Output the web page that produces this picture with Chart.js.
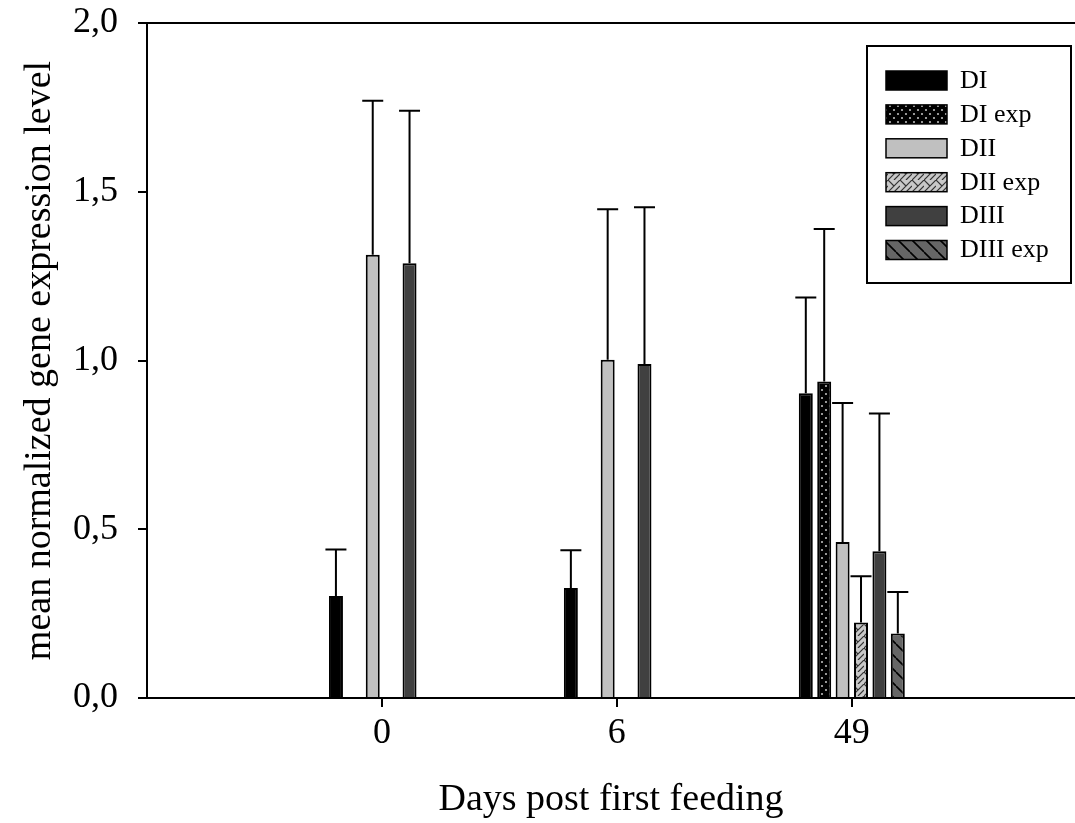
<!DOCTYPE html>
<html>
<head>
<meta charset="utf-8">
<script src="https://cdn.jsdelivr.net/npm/chart.js@4.4.0/dist/chart.umd.min.js"></script>
<style>
  html, body { margin: 0; padding: 0; background: #fff; }
  canvas { display: block; }
</style>
</head>
<body>
<canvas id="chart" width="1075" height="823"></canvas>
<script>
(function () {
  "use strict";

  var DAYS = ["0", "6", "49"];
  var SERIES = ["DI", "DI exp", "DII", "DII exp", "DIII", "DIII exp"];

  // means and upper error (SD) per day
  var DI = [0.302, 0.326, 0.903];
  var DI_SD = [0.138, 0.112, 0.284];
  var DI_EXP = [null, null, 0.938];
  var DI_EXP_SD = [null, null, 0.452];
  var DII = [1.313, 1.002, 0.462];
  var DII_SD = [0.457, 0.446, 0.412];
  var DII_EXP = [null, null, 0.224];
  var DII_EXP_SD = [null, null, 0.137];
  var DIII = [1.288, 0.990, 0.435];
  var DIII_SD = [0.452, 0.464, 0.408];
  var DIII_EXP = [null, null, 0.191];
  var DIII_EXP_SD = [null, null, 0.123];

  var Y_TICKS = [0, 0.5, 1, 1.5, 2];

  var FONT = "'Liberation Serif', 'Times New Roman', serif";

  function makePattern(size, bg, draw) {
    var c = document.createElement("canvas");
    c.width = size;
    c.height = size;
    var g = c.getContext("2d");
    g.fillStyle = bg;
    g.fillRect(0, 0, size, size);
    draw(g, size);
    return g.createPattern(c, "repeat");
  }

  var dotted = makePattern(8, "#000", function (g) {
    g.fillStyle = "#b8b8b8";
    g.beginPath();
    g.arc(2, 2, 1.1, 0, Math.PI * 2);
    g.arc(6, 6, 1.1, 0, Math.PI * 2);
    g.fill();
  });

  var hatched = makePattern(12, "#c8c8c8", function (g, s) {
    g.strokeStyle = "#333";
    g.lineWidth = 1.2;
    g.beginPath();
    g.moveTo(0, s); g.lineTo(s, 0);
    g.moveTo(0, 0); g.lineTo(s / 2, s / 2);
    g.moveTo(s / 2, s); g.lineTo(s, s / 2);
    g.stroke();
  });

  var striped = makePattern(14, "#666", function (g, s) {
    g.strokeStyle = "#000";
    g.lineWidth = 1.6;
    g.beginPath();
    for (var k = -1; k <= 1; k++) {
      g.moveTo(k * s, 0);
      g.lineTo(k * s + s, s);
    }
    g.stroke();
  });

  function points(values) {
    return values.map(function (v, i) {
      return { x: i, y: v };
    });
  }

  function dataset(label, values, sd, fill) {
    return {
      label: label,
      data: points(values),
      sd: sd,
      backgroundColor: fill,
      borderColor: "#000",
      borderWidth: 2,
      barPercentage: 0.76,
      categoryPercentage: 0.47,
    };
  }

  var errorBars = {
    id: "errorBars",
    afterDatasetsDraw: function (chart) {
      var ctx = chart.ctx;
      var yScale = chart.scales.y;
      ctx.save();
      ctx.strokeStyle = "#000";
      ctx.lineWidth = 2;
      chart.data.datasets.forEach(function (ds, i) {
        var meta = chart.getDatasetMeta(i);
        meta.data.forEach(function (bar, j) {
          var v = ds.data[j].y;
          var sd = ds.sd[j];
          if (v == null || sd == null) return;
          var top = yScale.getPixelForValue(v + sd);
          ctx.beginPath();
          ctx.moveTo(bar.x, bar.y);
          ctx.lineTo(bar.x, top);
          ctx.moveTo(bar.x - 10.5, top);
          ctx.lineTo(bar.x + 10.5, top);
          ctx.stroke();
        });
      });
      ctx.restore();
    },
  };

  var legendBox = {
    id: "legendBox",
    afterDraw: function (chart) {
      var ctx = chart.ctx;
      var area = chart.chartArea;
      var x0 = area.right - 208;
      var y0 = area.top + 23;
      ctx.save();
      ctx.lineWidth = 2;
      ctx.strokeStyle = "#000";
      ctx.strokeRect(x0, y0, 204, 237);
      ctx.font = "26px " + FONT;
      ctx.textBaseline = "middle";
      chart.data.datasets.forEach(function (ds, i) {
        var sy = y0 + 25 + i * 33.9;
        ctx.fillStyle = ds.backgroundColor;
        ctx.fillRect(x0 + 19, sy, 61, 19);
        ctx.lineWidth = 1.5;
        ctx.strokeRect(x0 + 19, sy, 61, 19);
        ctx.fillStyle = "#000";
        ctx.fillText(ds.label, x0 + 93, sy + 10);
      });
      ctx.restore();
    },
  };

  Chart.defaults.font.family = FONT;
  Chart.defaults.color = "#000";

  new Chart(document.getElementById("chart").getContext("2d"), {
    type: "bar",
    data: {
      datasets: [
        dataset(SERIES[0], DI, DI_SD, "#000"),
        dataset(SERIES[1], DI_EXP, DI_EXP_SD, dotted),
        dataset(SERIES[2], DII, DII_SD, "#c0c0c0"),
        dataset(SERIES[3], DII_EXP, DII_EXP_SD, hatched),
        dataset(SERIES[4], DIII, DIII_SD, "#404040"),
        dataset(SERIES[5], DIII_EXP, DIII_EXP_SD, striped),
      ],
    },
    options: {
      responsive: false,
      animation: false,
      devicePixelRatio: 1,
      layout: { padding: { top: 23, right: 0, bottom: 0, left: 0 } },
      plugins: {
        legend: { display: false },
        tooltip: { enabled: false },
      },
      scales: {
        x: {
          type: "linear",
          min: -1,
          max: 2.95,
          offset: false,
          afterBuildTicks: function (scale) {
            scale.ticks = DAYS.map(function (d, i) {
              return { value: i };
            });
          },
          afterFit: function (scale) {
            scale.height = 125;
            scale.paddingLeft = 0;
            scale.paddingRight = 0;
          },
          ticks: {
            callback: function (v) {
              return DAYS[v];
            },
            font: { size: 36 },
            color: "#000",
            padding: 5,
            maxRotation: 0,
            autoSkip: false,
          },
          grid: {
            display: true,
            drawOnChartArea: false,
            offset: false,
            tickLength: 9,
            color: "#000",
            lineWidth: 2,
          },
          border: { display: true, color: "#000", width: 2 },
          title: {
            display: true,
            text: "Days post first feeding",
            font: { size: 38 },
            color: "#000",
            padding: { top: 19, bottom: 0 },
          },
        },
        y: {
          min: 0,
          max: 2,
          afterBuildTicks: function (scale) {
            scale.ticks = Y_TICKS.map(function (v) {
              return { value: v };
            });
          },
          afterFit: function (scale) {
            scale.width = 147;
            scale.paddingTop = 0;
            scale.paddingBottom = 0;
          },
          ticks: {
            callback: function (v) {
              return v.toFixed(1).replace(".", ",");
            },
            font: { size: 36 },
            color: "#000",
            padding: 20,
          },
          grid: {
            drawOnChartArea: true,
            color: function (c) {
              return c.tick && c.tick.value === 2 ? "#000" : "rgba(0,0,0,0)";
            },
            tickColor: "#000",
            tickLength: 9,
            lineWidth: 2,
          },
          border: { display: true, color: "#000", width: 2 },
          title: {
            display: true,
            text: "mean normalized gene expression level",
            font: { size: 38 },
            color: "#000",
            padding: { top: 17, bottom: 10 },
          },
        },
      },
    },
    plugins: [errorBars, legendBox],
  });
})();
</script>
</body>
</html>
